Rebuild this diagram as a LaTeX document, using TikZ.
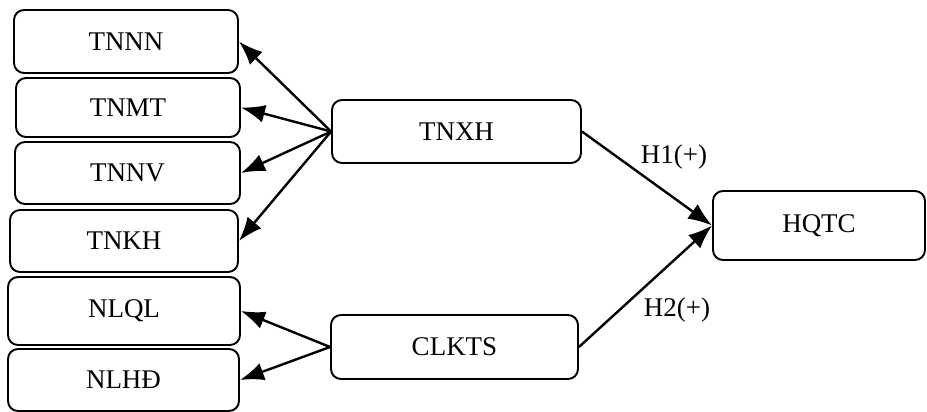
\documentclass[tikz,border=0pt]{standalone}
\usepackage{fontspec}
\setmainfont{Liberation Serif}
\usetikzlibrary{arrows.meta}

\def\boxRound{10pt}
\def\boxText{\fontsize{27}{31}\selectfont}

\tikzset{
  varbox/.style = {draw, line width = 1.9pt, rounded corners = \boxRound,
    inner sep = 0pt, font = \boxText},
  linkarrow/.style = {line width = 2.4pt, -{Latex[length=24pt,width=18pt]}},
}

\begin{document}
\begin{tikzpicture}[x = 1pt, y = -1pt]
            \useasboundingbox (0,0) rectangle (927,412);
            %% left column
            \node [varbox, minimum width = 224pt, minimum height = 63pt]
            (tnnn) at (126,41.5) {TNNN};
            \node [varbox, minimum width = 224pt, minimum height = 59pt]
            (tnmt) at (128,107.5) {TNMT};
            \node [varbox, minimum width = 225pt, minimum height = 62pt]
            (tnnv) at (127.5,173) {TNNV};
            \node [varbox, minimum width = 228pt, minimum height = 62pt]
            (tnkh) at (124,241) {TNKH};
            \node [varbox, minimum width = 232pt, minimum height = 68pt]
            (nlql) at (124,311) {NLQL};
            \node [varbox, minimum width = 231pt, minimum height = 62pt]
            (nlhd) at (123.5,380) {NLHĐ};
            %% middle column
            \node [varbox, minimum width = 249pt, minimum height = 63pt]
            (tnxh) at (456.5,131.5) {TNXH};
            \node [varbox, minimum width = 247pt, minimum height = 64pt]
            (clkts) at (454.5,347) {CLKTS};
            %% ...outcome
            \node [varbox, minimum width = 212pt, minimum height = 69pt]
            (hqtc) at (819,225.5) {HQTC};
            %% arrows
            \foreach \target in {tnnn, tnmt, tnnv, tnkh}
            \draw [linkarrow] (tnxh.west) -- (\target.east);
            \foreach \target in {nlql, nlhd}
            \draw [linkarrow] (clkts.west) -- (\target.east);
            \draw [linkarrow] (tnxh.east) -- (hqtc.west);
            \draw [linkarrow] (clkts.east) -- (hqtc.west);
            %% hypothesis labels
            \node [font = \boxText] (hone) at (674,157) {H1(+)};
            \node [font = \boxText] (htwo) at (677,310) {H2(+)};
        \end{tikzpicture}
\end{document}
